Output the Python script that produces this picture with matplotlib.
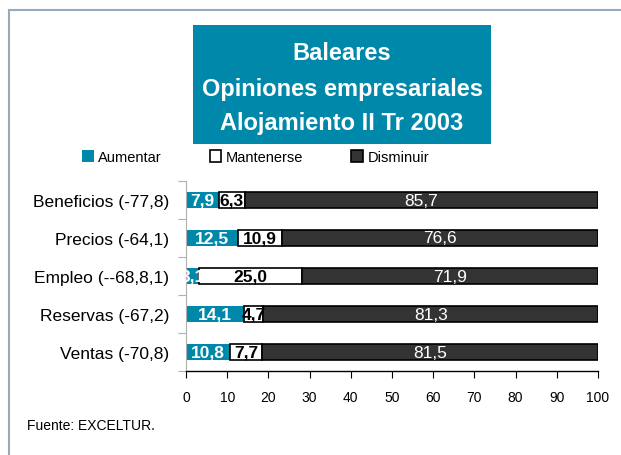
import matplotlib
matplotlib.use('Agg')
from matplotlib import pyplot as plt
from matplotlib.patches import Rectangle
from matplotlib.lines import Line2D
import numpy as np

plt.rcParams['font.family'] = ['Liberation Sans', 'DejaVu Sans']

categories = ['Beneficios (-77,8)', 'Precios (-64,1)', 'Empleo (--68,8,1)',
              'Reservas (-67,2)', 'Ventas (-70,8)']
aumentar = [7.9, 12.5, 3.1, 14.1, 10.8]
mantenerse = [6.3, 10.9, 25.0, 4.7, 7.7]
disminuir = [85.7, 76.6, 71.9, 81.3, 81.5]
series_names = ['Aumentar', 'Mantenerse', 'Disminuir']
xticks = [0, 10, 20, 30, 40, 50, 60, 70, 80, 90, 100]

colorblue = '#0088aa'
colordark = '#333333'
W, H = 621, 456


def fmt(vals):
    return [f'{v:.1f}'.replace('.', ',') for v in vals]


fig = plt.figure(figsize=(W / 100, H / 100), dpi=100)
fig.patch.set_facecolor('white')

# frame lines top / left
fig.add_artist(Line2D([9 / W, 1], [1 - 11 / H, 1 - 11 / H], transform=fig.transFigure,
                      color='#9aa8bc', linewidth=1.5))
fig.add_artist(Line2D([9 / W, 9 / W], [0, 1 - 11 / H], transform=fig.transFigure,
                      color='#9aa8bc', linewidth=1.5))

# title box
fig.add_artist(Rectangle((193 / W, 1 - 145 / H), 298 / W, 119 / H, transform=fig.transFigure,
                         facecolor=colorblue, edgecolor='none'))
for txt, yb in zip(['Baleares', 'Opiniones empresariales', 'Alojamiento II Tr 2003'], [60, 96, 130]):
    fig.text(342 / W, 1 - yb / H, txt, ha='center', va='baseline', color='white',
             fontsize=17, fontweight='bold')

ax = fig.add_axes([186 / W, 1 - 372 / H, 412 / W, 190 / H])
y = np.arange(len(categories))
h = 0.42
left2 = np.array(aumentar)
left3 = left2 + np.array(mantenerse)
b1 = ax.barh(y, aumentar, height=h, color=colorblue, edgecolor='none', label=series_names[0])
b2 = ax.barh(y, mantenerse, left=left2, height=h, color='white', edgecolor='black',
             linewidth=1.2, label=series_names[1])
b3 = ax.barh(y, disminuir, left=left3, height=h, color=colordark, edgecolor='black',
             linewidth=1.2, label=series_names[2])

ax.bar_label(b1, labels=fmt(aumentar), label_type='center', color='white',
             fontweight='bold', fontsize=12.5)
ax.bar_label(b2, labels=fmt(mantenerse), label_type='center', color='black',
             fontweight='bold', fontsize=12.5)
ax.bar_label(b3, labels=fmt(disminuir), label_type='center', color='white', fontsize=12.5)

ax.set_ylim(len(categories) - 0.5, -0.5)
ax.set_xlim(0, 100)
ax.set_yticks(np.arange(-0.5, len(categories)), labels=[])
ax.set_yticks(y, labels=categories, minor=True)
ax.tick_params(axis='y', which='major', length=6, color='#b0b0b0')
ax.tick_params(axis='y', which='minor', length=0, labelsize=12.5, pad=12)
ax.set_xticks(xticks)
ax.tick_params(axis='x', length=5, labelsize=10, pad=9)
for s in ['top', 'right']:
    ax.spines[s].set_visible(False)
ax.spines['left'].set_color('#b0b0b0')
ax.spines['bottom'].set_linewidth(1.0)

fig.legend(handles=[b1, b2, b3], loc='center left', bbox_to_anchor=(82 / W, 1 - 158 / H),
           ncol=3, frameon=False, fontsize=10.5, handlelength=0.8, handleheight=0.8,
           handletextpad=0.3, columnspacing=3.3, borderaxespad=0, borderpad=0)

fig.text(27 / W, 1 - 426 / H, 'Fuente: EXCELTUR.', fontsize=10, va='center', ha='left')

fig.savefig('out.png', dpi=100)
